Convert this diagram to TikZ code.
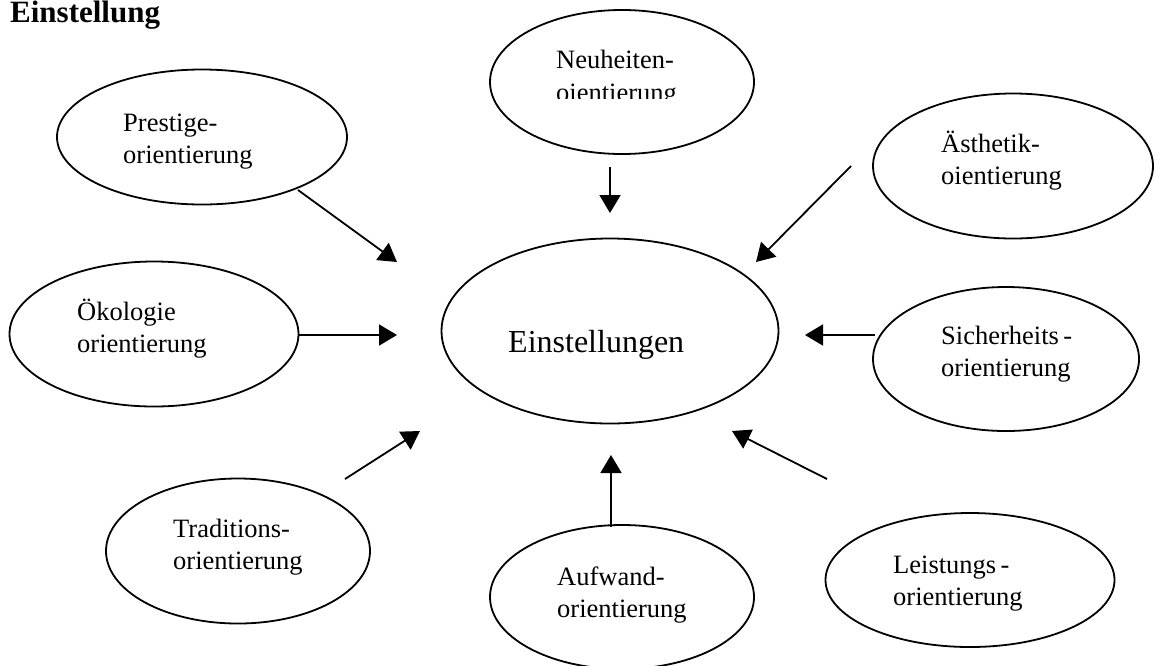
\documentclass[tikz,border=0pt]{standalone}
\usepackage{fontspec}
\setmainfont{Liberation Serif}
\usetikzlibrary{arrows.meta,shapes.geometric}
\begin{document}
\begin{tikzpicture}[x=1pt,y=-1pt,
  bubble/.style={draw=black,line width=1.8pt,ellipse,inner sep=0pt},
  lbl/.style={anchor=base west,inner sep=0pt,align=left,font=\fontsize{26.5}{32}\selectfont},
  conn/.style={line width=1.8pt,-{Triangle[length=18pt,width=21pt]}}]
\useasboundingbox (0,0) rectangle (1155,665);
% title
\node[anchor=base west,inner sep=0pt,font=\fontsize{31}{36}\selectfont\bfseries] (title) at (10,22) {Einstellung};
% ellipses
\node[bubble,minimum width=290pt,minimum height=135pt] (prestige) at (202,137) {};
\node[bubble,minimum width=264pt,minimum height=144pt] (neu) at (622,82) {};
\node[bubble,minimum width=280pt,minimum height=145pt] (aest) at (1013,166) {};
\node[bubble,minimum width=289pt,minimum height=145pt] (oeko) at (154,334) {};
\node[bubble,minimum width=337pt,minimum height=185pt] (center) at (610,331) {};
\node[bubble,minimum width=266pt,minimum height=144pt] (sicher) at (1006,359) {};
\node[bubble,minimum width=264pt,minimum height=145pt] (trad) at (238,551) {};
\node[bubble,minimum width=264pt,minimum height=144pt] (aufw) at (622,597) {};
\node[bubble,minimum width=289pt,minimum height=134pt] (leist) at (970,580) {};
% texts (anchored at the baseline of the last line)
\node[lbl] (prestigeT) at (123,163) {Prestige-\\orientierung};
\node[lbl] (neuT) at (556,68) {Neuheiten-};
\begin{scope}
\clip (540,75) rectangle (700,98);
\node[lbl] (neuT2) at (556,101) {oientierung};
\end{scope}
\node[lbl] (aestT) at (941,184) {Ästhetik-\\oientierung};
\node[lbl] (oekoT) at (77,352) {Ökologie\\orientierung};
\node[anchor=base west,inner sep=0pt,font=\fontsize{32}{38}\selectfont] (centerT) at (508,352) {Einstellungen};
\node[lbl] (sicherT) at (941,376) {Sicherheits\,-\\orientierung};
\node[lbl] (tradT) at (173,569) {Traditions-\\orientierung};
\node[lbl] (aufwT) at (557,617) {Aufwand-\\orientierung};
\node[lbl] (leistT) at (893,605) {Leistungs\,-\\orientierung};
% connector ends
\coordinate (p1) at (298,190); \coordinate (p2) at (397,262);
\coordinate (n1) at (610,167); \coordinate (n2) at (610,213);
\coordinate (a1) at (851,166); \coordinate (a2) at (756,262);
\coordinate (o1) at (298,335); \coordinate (o2) at (397,335);
\coordinate (s1) at (875,335); \coordinate (s2) at (805,335);
\coordinate (t1) at (345,479); \coordinate (t2) at (420,431);
\coordinate (u1) at (611,527); \coordinate (u2) at (611,455);
\coordinate (l1) at (827,479); \coordinate (l2) at (732,431);
\draw[conn] (p1) -- (p2);
\draw[conn] (n1) -- (n2);
\draw[conn] (a1) -- (a2);
\draw[conn] (o1) -- (o2);
\draw[conn] (s1) -- (s2);
\draw[conn] (t1) -- (t2);
\draw[conn] (u1) -- (u2);
\draw[conn] (l1) -- (l2);
\end{tikzpicture}
\end{document}
